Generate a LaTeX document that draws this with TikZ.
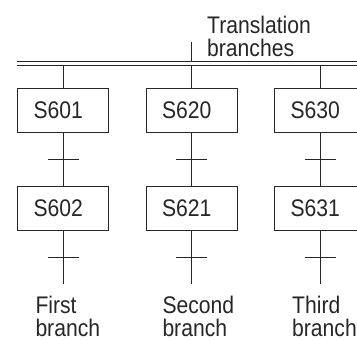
\documentclass[tikz,border=0pt]{standalone}
\usepackage{fontspec}
\setmainfont[FakeStretch=0.88]{Liberation Sans}
\usepackage{tikz}
\usetikzlibrary{arrows.meta}

\begin{document}
\begin{tikzpicture}[x=0.5pt, y=0.5pt, line width=0.5pt, black!85,
  font=\fontsize{12}{11.75}\selectfont,
  stepbox/.style={draw, rectangle, inner xsep=8pt, inner ysep=0pt,
    text width=29.5pt, align=left, minimum height=22.25pt},
  branchlabel/.style={anchor=base west, align=left, inner sep=0pt}]

  \useasboundingbox (0,0) rectangle (357,339);

  % --- Steps of the three branches ---
  \node[stepbox] (s601) at (63, 228.5)    {S601};
  \node[stepbox] (s602) at (63, 130.6)    {S602};
  \node[stepbox] (s620) at (191.5, 228.5) {S620};
  \node[stepbox] (s621) at (191.5, 130.6) {S621};
  \node[stepbox] (s630) at (320, 228.5)   {S630};
  \node[stepbox] (s631) at (320, 130.6)   {S631};

  % --- Ends of the branches ---
  \coordinate (e1) at (63, 55);
  \coordinate (e2) at (191.5, 55);
  \coordinate (e3) at (320, 55);

  % --- Double line and its tick ---
  \coordinate (busL) at (16.7, 275.8);
  \coordinate (busR) at (365, 275.8);
  \coordinate (tick) at (191.5, 297);

  \draw (tick) -- (tick |- busL);
  \draw (s601.north) -- (s601.north |- busL);
  \draw (s620.north) -- (s620.north |- busL);
  \draw (s630.north) -- (s630.north |- busL);
  \draw[double, double distance=1.5pt] (busL) -- (busR);

  % --- Transitions between the steps ---
  \draw (s601.south) -- (s602.north) coordinate[midway] (t601);
  \draw (s620.south) -- (s621.north) coordinate[midway] (t620);
  \draw (s630.south) -- (s631.north) coordinate[midway] (t630);
  \draw (s602.south) -- (e1) coordinate[midway] (t602);
  \draw (s621.south) -- (e2) coordinate[midway] (t621);
  \draw (s631.south) -- (e3) coordinate[midway] (t631);

  \draw ([xshift=-7.75pt]t601) -- ([xshift=7.75pt]t601);
  \draw ([xshift=-7.75pt]t620) -- ([xshift=7.75pt]t620);
  \draw ([xshift=-7.75pt]t630) -- ([xshift=7.75pt]t630);
  \draw ([xshift=-7.75pt]t602) -- ([xshift=7.75pt]t602);
  \draw ([xshift=-7.75pt]t621) -- ([xshift=7.75pt]t621);
  \draw ([xshift=-7.75pt]t631) -- ([xshift=7.75pt]t631);

  % --- Labels ---
  \node[branchlabel] (title)  at (206.7, 282.3) {Translation\\branches};
  \node[branchlabel] (first)  at (35, 2.2)      {First\\branch};
  \node[branchlabel] (second) at (162, 2.2)     {Second\\branch};
  \node[branchlabel] (third)  at (291.7, 2.2)   {Third\\branch};

\end{tikzpicture}
\end{document}
